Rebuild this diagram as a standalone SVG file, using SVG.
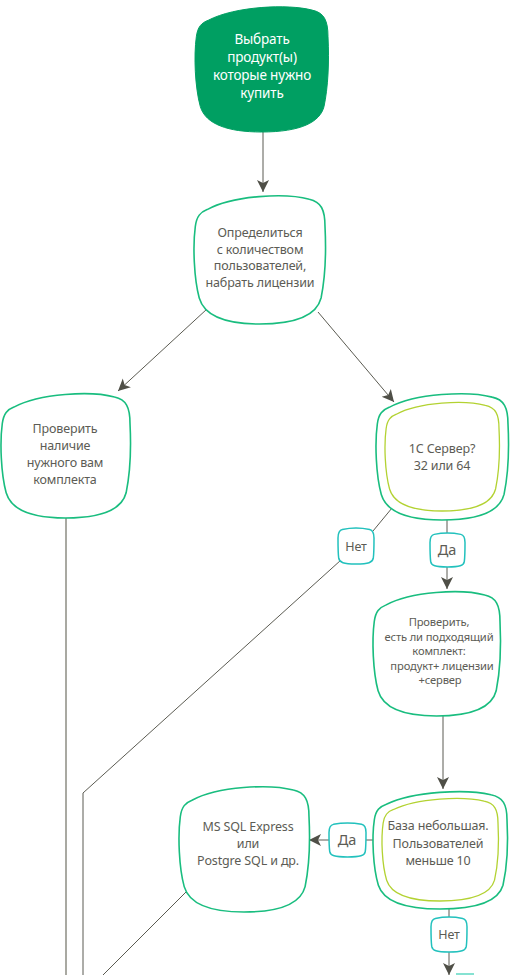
<svg xmlns="http://www.w3.org/2000/svg" xmlns:xlink="http://www.w3.org/1999/xlink" width="528" height="975" viewBox="0 0 528 975">
<style>
.n{fill:#fff;stroke:#19bd7f;stroke-width:1.6}
.in{fill:none;stroke:#b3d232;stroke-width:1.3}
.top{fill:#009f62;stroke:#009f62;stroke-width:1}
.lb{fill:#fff;stroke:#22c1bd;stroke-width:1.5}
.t{font-family:"Noto Sans","Open Sans",sans-serif;font-size:12.5px;letter-spacing:-0.15px;fill:#5c5c55;text-anchor:middle}
.tw{fill:#fff;font-size:13.5px}
.s{font-size:11.2px}
.c{fill:none;stroke:#5b5b52;stroke-width:1}
.ca{fill:none;stroke:#5b5b52;stroke-width:1;marker-end:url(#ah)}
</style>
<defs>
<path id="blob" vector-effect="non-scaling-stroke" d="M10,12 C30,1 70,-1 88,4 C97,6 100,12 100,25 C101,45 100,65 97,80 C94,92 80,100 50,100 C25,100 8,94 4,80 C0,65 -1,40 1,25 C2,17 5,14 10,12 Z"/>
<path id="lab" vector-effect="non-scaling-stroke" d="M12,4 C35,-1 65,-1 88,4 C97,6 100,12 100,28 C100,50 100,70 98,84 C96,96 85,100 50,100 C15,100 4,96 2,84 C0,70 0,50 0,28 C0,12 3,6 12,4 Z"/>
<marker id="ah" markerUnits="userSpaceOnUse" markerWidth="12" markerHeight="16" viewBox="0 0 12 16" refX="12" refY="8" orient="auto">
<path d="M0,2 L12,8 L0,14 L3,8 Z" fill="#4f4f47"/>
</marker>
</defs>

<g id="connectors">
<path class="ca" d="M263,132 V192"/>
<path class="ca" d="M207,309 L118,391"/>
<path class="ca" d="M318,312 L394,402"/>
<path class="c" d="M447,519 V533"/>
<path class="ca" d="M447,567 V589"/>
<path class="c" d="M392,508 L373,531"/>
<path class="c" d="M341,560 L83,793 V975" stroke="#6a6a62"/>
<path d="M66,518 V975" fill="none" stroke="#a9a9a2" stroke-width="2"/>
<path class="ca" d="M443,716 V789"/>
<path class="c" d="M373,840 H366"/>
<path class="ca" d="M329,840 H309"/>
<path class="c" d="M188,890 L103,975"/>
<path class="c" d="M449,909 V917"/>
<path class="ca" d="M449,952 V975"/>
<path d="M456,974 H474" stroke="#86e2d2" stroke-width="2"/>
</g>

<g id="n1">
<use href="#blob" class="top" transform="translate(195 5) scale(1.33 1.27)"/>
<text class="t tw" x="262" y="44">Выбрать</text>
<text class="t tw" x="262" y="62">продукт(ы)</text>
<text class="t tw" x="262" y="80">которые нужно</text>
<text class="t tw" x="262" y="98">купить</text>
</g>

<g id="n2">
<use href="#blob" class="n" transform="translate(194 194) scale(1.31 1.30)"/>
<text class="t" x="260" y="237">Определиться</text>
<text class="t" x="260" y="253.5">с количеством</text>
<text class="t" x="260" y="270">пользователей,</text>
<text class="t" x="260" y="286.5">набрать лицензии</text>
</g>

<g id="n3">
<use href="#blob" class="n" transform="translate(1 392) scale(1.29 1.26)"/>
<text class="t" x="65" y="433">Проверить</text>
<text class="t" x="65" y="450">наличие</text>
<text class="t" x="65" y="467">нужного вам</text>
<text class="t" x="65" y="484">комплекта</text>
</g>

<g id="n4">
<use href="#blob" class="n" transform="translate(376 392) scale(1.32 1.28)"/>
<use href="#blob" class="in" transform="translate(385 401) scale(1.14 1.10)"/>
<text class="t" x="442" y="453">1С Сервер?</text>
<text class="t" x="442" y="470">32 или 64</text>
</g>

<g id="l1">
<use href="#lab" class="lb" transform="translate(338 528) scale(0.36 0.36)"/>
<text class="t" x="356" y="550.5">Нет</text>
</g>

<g id="l2">
<use href="#lab" class="lb" transform="translate(430 533) scale(0.35 0.34)"/>
<text class="t" x="447" y="555" style="font-size:14.5px">Да</text>
</g>

<g id="n5">
<use href="#blob" class="n" transform="translate(373 590) scale(1.27 1.26)"/>
<text class="t s" x="439" y="626">Проверить,</text>
<text class="t s" x="439" y="640.5">есть ли подходящий</text>
<text class="t s" x="439" y="655">комплект:</text>
<text class="t s" x="442" y="669.5">продукт+ лицензии</text>
<text class="t s" x="440" y="684">+сервер</text>
</g>

<g id="n6">
<use href="#blob" class="n" transform="translate(373 790) scale(1.34 1.19)"/>
<use href="#blob" class="in" transform="translate(382 797) scale(1.16 1.04)"/>
<text class="t" x="438" y="830">База небольшая.</text>
<text class="t" x="438" y="847.5">Пользователей</text>
<text class="t" x="438" y="865">меньше 10</text>
</g>

<g id="l3">
<use href="#lab" class="lb" transform="translate(329 823) scale(0.37 0.34)"/>
<text class="t" x="347" y="845" style="font-size:14.5px">Да</text>
</g>

<g id="n7">
<use href="#blob" class="n" transform="translate(179 785) scale(1.30 1.27)"/>
<text class="t" x="248" y="831">MS SQL Express</text>
<text class="t" x="248" y="848">или</text>
<text class="t" x="248" y="865">Postgre SQL и др.</text>
</g>

<g id="l4">
<use href="#lab" class="lb" transform="translate(431 917) scale(0.36 0.35)"/>
<text class="t" x="449" y="938.5">Нет</text>
</g>
</svg>
